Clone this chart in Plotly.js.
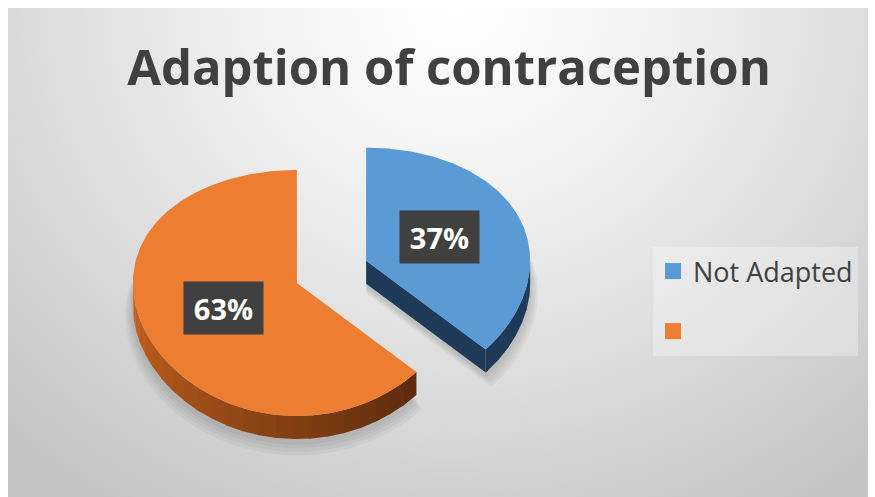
<!DOCTYPE html>
<html>
<head>
<meta charset="utf-8">
<script src="https://cdn.plot.ly/plotly-3.0.1.min.js"></script>
<style>
  html, body { margin:0; padding:0; background:#ffffff; }
  #wrap { position:relative; width:875px; height:497px; overflow:hidden; background:#ffffff; }
  #bg { position:absolute; left:8px; top:8px; width:860px; height:489px;
        background: radial-gradient(ellipse 75% 120% at 52% 0%, #ffffff 0%, #f2f2f2 30%, #dcdcdc 65%, #c4c4c4 100%); }
  #chart { position:absolute; left:0; top:0; width:875px; height:497px; }
</style>
</head>
<body>
<div id="wrap"><div id="bg"></div><div id="chart"></div></div>
<script>
// ---- data ----
const categories = ['Not Adapted', ''];
const values = [37, 63];
const topColors = ['#5B9BD5', '#ED7D31'];
const chartTitle = 'Adaption of contraception';

// ---- geometry / style (not data) ----
const G = { cx: 331.5, cy: 271.5, rx: 164, ryU: 113, ryD: 133, depth: 23, explode: 0.23, labelR: 0.49 };
const rad = d => d * Math.PI / 180;
function ry(theta) { return (G.ryU + G.ryD) / 2 - (G.ryD - G.ryU) / 2 * Math.cos(rad(theta)); }
function pt(c, theta, s) {
  s = (s === undefined) ? 1 : s;
  return [c[0] + s * G.rx * Math.sin(rad(theta)), c[1] - s * ry(theta) * Math.cos(rad(theta))];
}
function arc(c, a, b) { const out = []; const n = Math.max(2, Math.ceil(Math.abs(b - a))); for (let i = 0; i <= n; i++) out.push(pt(c, a + (b - a) * i / n)); return out; }
function mix(c1, c2, t) {
  const h = s => [1,3,5].map(i => parseInt(s.substr(i,2),16));
  const A = h(c1), B = h(c2);
  return 'rgb(' + A.map((v,i) => Math.round(v + (B[i]-v)*t)).join(',') + ')';
}
function poly(points, color, opacity) {
  return { type:'scatter', mode:'lines', x: points.map(p=>p[0]).concat([points[0][0]]), y: points.map(p=>p[1]).concat([points[0][1]]),
           fill:'toself', fillcolor: color, line:{width:0, color:color}, opacity: opacity===undefined?1:opacity,
           hoverinfo:'skip', showlegend:false };
}

const total = values.reduce((a,b)=>a+b,0);
let acc = 0;
const slices = values.map((v,i) => { const a0 = acc/total*360; acc += v; const a1 = acc/total*360; return {i, a0, a1, mid:(a0+a1)/2}; });
slices.forEach(s => { s.c = pt([G.cx, G.cy], s.mid, G.explode); });

const sideLight = ['#2a4a6e', '#c8641f'];
const sideDark  = ['#1f3a58', '#5a2a0c'];

const traces = [];
// soft shadows: each slice outline, shifted down, in a few faint layers
slices.forEach(s => {
  for (let k = 0; k < 4; k++) {
    const grow = 1 + 0.012 * (k + 1);
    const c = [s.c[0], s.c[1] + G.depth + 4 + k * 2];
    const pts = [c].concat(arc(s.c, s.a0, s.a1).map(p => [c[0] + (p[0] - s.c[0]) * grow, c[1] + (p[1] - s.c[1]) * grow]));
    traces.push(poly(pts, 'rgba(0,0,0,1)', 0.04));
  }
});

[1, 0].forEach(idx => {
  const s = slices[idx];
  // outer rim (visible front half)
  const lo = Math.max(s.a0, 90), hi = Math.min(s.a1, 270);
  if (hi > lo) {
    const step = 6;
    for (let a = lo; a < hi; a += step) {
      const b = Math.min(hi, a + step + 0.6);
      const top = arc(s.c, a, b);
      const bot = top.map(p => [p[0], p[1] + G.depth]).reverse();
      const t = (270 - (a + b) / 2) / (270 - 90);
      traces.push(poly(top.concat(bot), mix(sideLight[idx], sideDark[idx], Math.min(1, Math.max(0, t * 1.3)))));
    }
  }
  // cut faces facing the viewer
  const faces = [];
  if (Math.sin(rad(s.a1)) > 1e-6) faces.push(s.a1);
  if (Math.sin(rad(s.a0)) < -1e-6) faces.push(s.a0);
  faces.forEach(a => {
    const e = pt(s.c, a);
    traces.push(poly([s.c, e, [e[0], e[1] + G.depth], [s.c[0], s.c[1] + G.depth]], sideDark[idx]));
  });
  // top face
  traces.push(poly([s.c].concat(arc(s.c, s.a0, s.a1)), topColors[idx]));
});

// legend entries
categories.forEach((name, i) => {
  traces.push({ type:'scatter', mode:'markers', x:[null], y:[null], name: name === '' ? ' ' : name,
                legendgroup:'g'+i, marker:{symbol:'square', size:20, color: topColors[i]}, showlegend:true, hoverinfo:'skip' });
});

const annotations = slices.map(s => {
  const p = pt(s.c, s.mid, G.labelR);
  return { x:p[0], y:p[1], xref:'x', yref:'y', showarrow:false,
           text: Math.round(values[s.i] / total * 100) + '%',
           font:{family:'Open Sans', size:29, color:'#ffffff', weight:700},
           bgcolor:'#404040', width:67, height:40, borderpad:6 };
});

const layout = {
  width:875, height:497, margin:{l:0, r:0, t:0, b:0},
  paper_bgcolor:'rgba(0,0,0,0)', plot_bgcolor:'rgba(0,0,0,0)',
  xaxis:{range:[0,875], visible:false, fixedrange:true},
  yaxis:{range:[497,0], visible:false, fixedrange:true},
  title:{ text: chartTitle, x: 449/875, xanchor:'center', y: 1 - 68/497, yanchor:'middle', yref:'container',
          font:{family:'Open Sans', size:49, color:'#404040', weight:700} },
  showlegend:true,
  legend:{ x: 653/875, xanchor:'left', y: 1 - 247/497, yanchor:'top', bgcolor:'rgba(255,255,255,0.3)',
           font:{family:'Open Sans', size:27, color:'#404040'}, tracegroupgap:22, traceorder:'grouped' },
  annotations: annotations
};

Plotly.newPlot('chart', traces, layout, {displayModeBar:false, staticPlot:true});
</script>
</body>
</html>
